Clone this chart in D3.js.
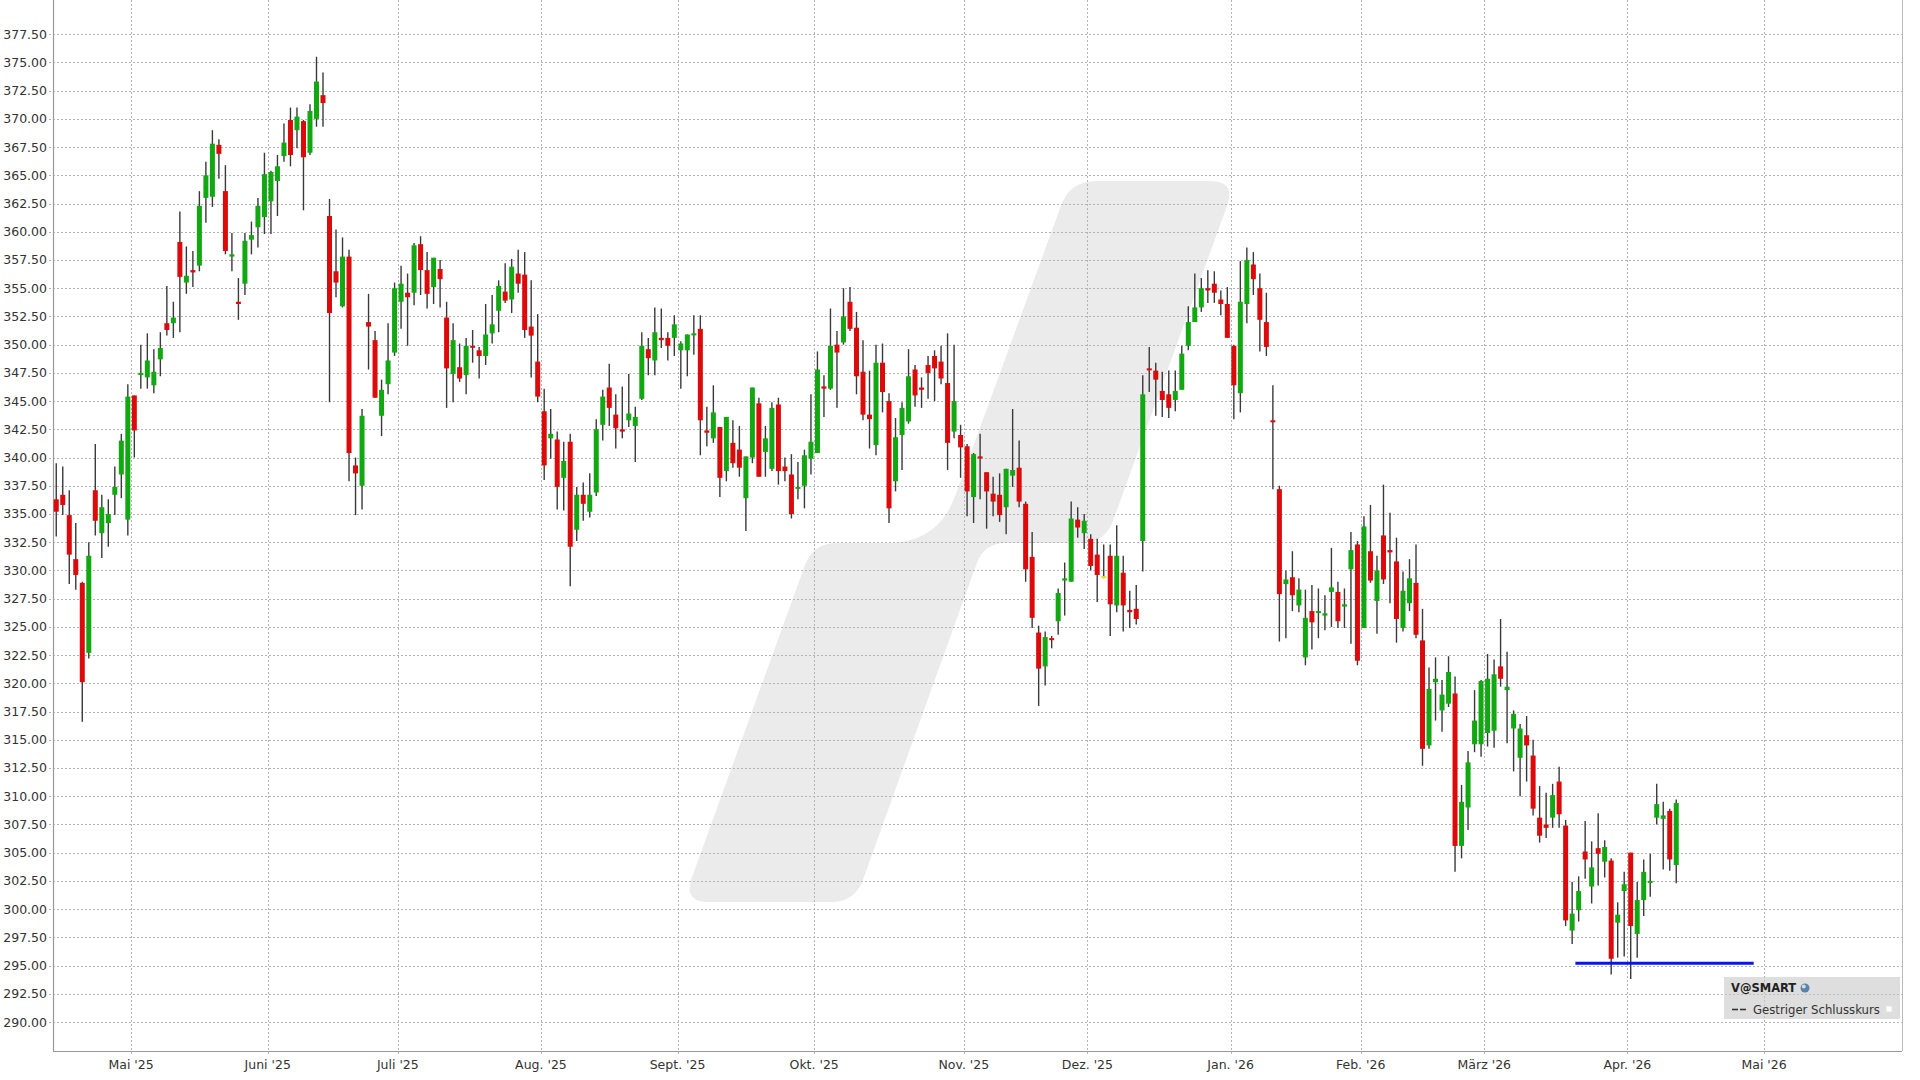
<!DOCTYPE html>
<html>
<head>
<meta charset="utf-8">
<script src="https://cdn.jsdelivr.net/npm/d3@7"></script>
<style>
body { margin: 0; background: #fff; }
svg { display: block; font-family: "DejaVu Sans", Verdana, sans-serif; }
</style>
</head>
<body>
<script>
// daily candles, 14.04.2025 .. 13.04.2026 (trading days)
var openP = [336.3,336.7,334.9,331.0,328.9,322.7,337.1,333.3,334.2,336.7,338.5,334.5,345.5,347.3,347.1,346.4,348.7,351.9,351.9,359.1,
355.5,356.6,357.0,363.0,363.1,367.7,363.6,357.8,353.8,355.4,359.3,360.4,361.3,362.7,364.5,366.7,369.9,369.0,369.8,367.0,
370.0,372.1,361.4,356.5,353.4,357.8,339.3,337.5,352.0,350.4,343.7,346.5,349.3,353.8,354.6,354.6,358.9,356.6,355.1,356.7,
352.4,347.4,348.0,347.3,349.9,349.5,349.0,351.0,353.0,354.7,354.0,356.3,356.2,351.6,348.5,344.1,341.7,341.6,338.2,341.4,
333.6,336.7,335.2,336.9,342.9,346.2,343.8,342.5,343.3,342.8,345.2,349.6,348.6,350.6,350.6,350.6,349.5,349.5,350.9,351.4,
342.4,341.7,342.7,338.8,341.3,340.7,336.4,340.0,344.8,340.5,339.0,344.7,339.2,338.5,337.3,337.5,339.9,340.4,346.3,346.1,
350.0,350.2,353.8,351.5,347.6,343.8,341.1,348.4,345.0,337.9,342.0,343.2,347.8,346.2,348.2,349.0,348.5,346.6,342.3,342.0,
341.0,336.5,340.1,338.7,336.8,336.7,335.6,338.4,339.1,335.9,331.2,324.5,321.5,324.0,325.5,329.1,329.0,334.5,333.3,332.8,
331.4,329.5,331.3,326.9,329.8,326.5,326.6,332.6,347.9,347.7,345.9,345.6,345.1,346.0,349.9,352.0,353.3,355.0,355.4,354.0,
353.6,349.9,345.7,353.6,357.1,355.0,352.0,343.3,337.2,328.8,329.4,326.9,322.3,326.4,326.3,326.0,328.1,328.1,326.8,330.1,
332.3,324.9,331.7,327.3,333.1,331.8,330.8,324.9,327.1,328.9,323.8,314.5,320.1,317.6,318.2,319.1,305.6,309.0,314.6,314.6,
315.6,315.8,321.5,319.4,316.0,313.4,315.4,313.6,308.1,307.5,308.1,311.3,307.4,298.1,299.9,305.1,302.0,305.4,304.2,304.3,
298.8,301.6,305.0,297.8,300.8,302.4,308.1,308.0,308.7,303.9];
var highP = [339.5,339.2,337.1,334.2,329.0,332.5,341.2,336.7,336.3,339.2,342.1,346.5,345.5,350.0,351.0,349.6,351.1,355.2,353.8,361.8,
358.7,358.3,363.6,366.2,369.0,368.2,365.9,359.9,355.9,359.9,360.9,363.0,367.0,365.4,366.8,369.6,371.0,371.0,369.9,371.3,
375.5,374.1,362.9,360.2,359.5,358.4,340.0,344.3,354.5,351.2,346.9,351.9,355.5,357.0,356.3,359.0,359.6,358.2,357.7,357.5,
353.8,351.9,350.1,350.6,351.3,349.8,353.6,354.4,355.7,357.2,357.6,358.4,358.2,355.7,352.7,346.1,344.3,342.3,341.4,342.1,
337.4,337.8,338.6,343.4,346.0,348.3,345.6,346.3,347.4,344.5,351.1,350.6,353.3,353.2,351.1,352.6,350.3,350.9,352.6,352.6,
344.5,346.4,342.7,343.6,343.3,342.8,340.1,346.2,345.3,342.8,344.9,345.3,340.0,340.3,339.6,340.7,345.6,349.4,347.3,353.2,
351.2,355.0,355.1,352.9,350.4,347.7,350.0,350.1,345.7,343.5,344.9,349.6,348.2,347.1,349.0,349.5,349.9,351.0,350.0,342.9,
341.2,340.4,342.1,338.7,338.3,338.6,339.0,344.3,341.5,336.1,333.4,325.1,324.6,324.2,328.4,330.7,336.1,335.6,335.0,333.2,
332.8,332.3,332.3,334.0,331.3,328.2,328.7,347.3,349.8,348.4,347.6,347.7,347.7,349.9,353.4,356.3,355.9,356.6,356.5,354.8,
355.1,350.0,357.4,358.6,358.2,356.3,354.6,346.4,337.5,330.0,331.7,329.3,328.3,328.7,328.4,327.8,332.0,329.0,328.4,333.4,
332.6,334.8,335.8,331.3,337.6,335.1,332.9,329.9,331.0,332.3,326.6,321.4,322.3,320.3,322.4,320.6,311.0,314.0,319.4,320.3,
322.6,322.1,325.7,322.8,317.6,316.4,317.1,315.0,310.9,310.3,311.1,312.6,307.9,302.4,302.9,307.8,306.0,308.5,306.1,304.5,
300.6,303.3,305.0,302.4,304.4,304.9,311.1,309.5,308.9,309.7];
var lowP = [333.0,334.9,328.8,328.3,316.6,322.2,333.1,331.1,332.1,334.9,336.4,333.1,340.0,346.1,346.1,345.7,347.2,350.8,350.6,351.1,
354.5,355.1,356.5,360.8,362.2,364.7,358.0,356.5,352.2,354.4,358.0,358.6,359.8,359.8,361.4,366.2,365.8,367.4,361.9,366.8,
369.3,369.3,344.9,354.2,353.3,337.9,334.9,335.4,347.8,345.3,341.9,345.6,349.0,351.4,349.9,353.5,354.4,353.2,353.6,353.3,
344.4,344.9,346.7,345.6,348.4,347.0,348.2,350.1,351.1,353.7,352.8,354.6,350.6,347.1,344.9,338.0,339.9,335.4,335.3,328.6,
332.6,334.4,334.7,336.6,341.5,342.8,340.8,341.7,342.7,339.6,345.1,347.3,347.3,349.7,348.6,349.0,346.1,347.2,349.1,340.2,
341.0,341.3,336.5,337.9,339.1,338.3,333.5,339.5,338.3,338.3,338.8,337.6,337.9,334.6,336.3,335.5,338.5,340.4,343.6,346.0,
344.4,350.0,351.2,345.6,343.3,340.8,340.2,344.0,334.2,337.0,338.9,343.0,344.5,344.4,345.2,345.0,346.5,338.9,341.7,338.2,
334.8,334.2,336.3,333.7,334.8,334.3,333.2,337.4,335.6,329.0,324.9,318.0,319.8,323.1,324.3,326.0,329.0,332.9,331.9,330.0,
327.2,329.3,324.2,326.3,324.6,324.9,325.2,329.9,345.8,343.7,343.6,343.5,344.1,346.0,349.5,352.0,352.9,353.7,353.7,352.6,
350.6,343.4,344.0,351.9,354.4,349.4,349.0,337.2,323.7,324.0,326.4,326.3,321.6,323.0,324.0,324.7,325.0,324.9,324.9,323.5,
321.6,324.9,328.9,324.4,328.8,327.1,323.6,324.6,326.4,324.0,312.7,314.2,316.7,315.7,317.9,303.3,304.5,307.0,313.9,313.5,
314.4,314.3,319.7,314.7,312.2,310.0,311.3,308.3,305.9,306.3,307.2,307.2,298.5,296.9,298.9,302.7,300.5,302.1,302.8,294.2,
295.7,295.8,293.8,295.7,299.4,301.1,307.5,303.5,303.4,302.3];
var closeP = [335.2,335.8,331.4,329.6,320.1,331.3,334.4,335.6,335.0,337.4,341.5,345.4,342.4,347.5,348.6,347.6,349.7,351.3,352.4,356.0,
356.1,356.4,362.3,365.0,367.8,366.9,358.3,358.0,353.6,359.2,359.7,362.3,365.1,365.3,365.8,367.9,366.8,370.2,366.6,370.7,
373.3,371.4,352.8,355.5,357.8,340.4,338.6,343.7,351.6,345.3,346.0,348.6,355.0,355.4,354.2,358.8,356.6,354.5,357.7,355.8,
347.9,350.4,347.0,349.9,349.8,349.0,350.9,351.8,355.2,353.9,356.9,355.4,351.3,350.8,345.4,339.3,342.1,337.4,339.7,332.1,
336.7,335.9,336.7,342.5,345.4,344.4,342.6,342.3,343.9,343.6,349.9,348.8,351.1,350.4,349.9,351.8,350.1,350.9,351.0,343.3,
342.2,344.0,338.2,343.6,339.5,339.1,340.1,346.2,338.3,341.7,344.4,338.8,338.8,335.0,337.4,340.2,341.4,347.8,346.1,349.9,
349.3,352.5,351.4,347.2,343.8,343.4,348.4,345.8,335.5,341.8,344.4,347.2,345.5,346.0,347.5,347.9,347.0,341.3,345.0,340.9,
337.0,340.3,340.0,337.0,336.1,334.9,339.0,338.9,336.1,330.1,325.8,321.3,324.1,323.9,328.0,329.3,334.6,333.8,334.4,330.4,
329.6,329.5,327.0,331.3,326.9,326.3,325.7,345.6,347.8,346.9,345.1,344.4,345.9,349.2,352.0,353.3,355.0,354.8,354.6,353.6,
350.6,346.4,353.8,357.5,355.8,352.2,349.8,343.2,327.9,329.2,327.8,328.3,325.8,325.4,326.4,326.2,328.5,325.5,327.0,331.8,
322.0,333.9,329.1,330.0,329.2,331.6,325.7,328.2,329.3,324.3,314.2,319.5,320.4,319.0,321.0,305.6,309.5,313.0,316.7,320.2,
320.4,320.8,320.4,319.7,317.3,316.0,314.5,308.9,306.5,307.2,310.1,308.4,299.0,299.6,301.6,304.4,303.7,304.9,305.5,295.6,
299.5,302.2,298.5,300.8,303.3,302.5,309.3,308.3,304.4,309.4];

var monthLabels = ["Mai '25", "Juni '25", "Juli '25", "Aug. '25", "Sept. '25", "Okt. '25", "Nov. '25",
  "Dez. '25", "Jan. '26", "Feb. '26", "März '26", "Apr. '26", "Mai '26"];
var monthStart = [12, 33, 53, 75, 96, 117, 140, 159, 181, 201, 220, 242, 263];   // index of first trading day
var yTicks = d3.range(290, 377.51, 2.5);
var levelLine = {from: 234.0, to: 261.4, value: 295.2};

var W = 1920, H = 1080;
var left = 53, right = 1902, bottom = 1051;
var x = d3.scaleLinear().domain([0, 284.2]).range([left, right]);
var y = d3.scaleLinear().domain([290, 377.5]).range([1022, 34.2]);

var svg = d3.select("body").append("svg").attr("width", W).attr("height", H);

// watermark
function roundedPoly(pts, rad) {
	var p = d3.path(), n = pts.length;
	for (var i = 0; i < n; i++) {
		var a = pts[(i - 1 + n) % n], b = pts[i], c = pts[(i + 1) % n];
		var d1 = Math.hypot(a[0] - b[0], a[1] - b[1]), d2 = Math.hypot(c[0] - b[0], c[1] - b[1]);
		var p1 = [b[0] + (a[0] - b[0]) * rad[i] / d1, b[1] + (a[1] - b[1]) * rad[i] / d1];
		var p2 = [b[0] + (c[0] - b[0]) * rad[i] / d2, b[1] + (c[1] - b[1]) * rad[i] / d2];
		if (i == 0) p.moveTo(p1[0], p1[1]); else p.lineTo(p1[0], p1[1]);
		p.quadraticCurveTo(b[0], b[1], p2[0], p2[1]);
	}
	p.closePath();
	return p.toString();
}
var logo = [[1070,181],[1236,181],[1105,543],[984,543],[855,902],[683,902],[813,543],[938,543]];
svg.append("path")
	.attr("d", roundedPoly(logo, [26, 26, 24, 22, 24, 26, 24, 50]))
	.attr("fill", "#ebebeb");

// grid
var grid = svg.append("g").attr("stroke", "#b4b4b4").attr("stroke-width", 1).attr("stroke-dasharray", "2,2");
grid.selectAll("line.h").data(yTicks).enter().append("line")
	.attr("x1", left - 4).attr("x2", right)
	.attr("y1", function(d) { return Math.round(y(d)) + 0.5; })
	.attr("y2", function(d) { return Math.round(y(d)) + 0.5; });
grid.selectAll("line.v").data(monthStart).enter().append("line")
	.attr("y1", 0).attr("y2", bottom + 4)
	.attr("x1", function(d) { return Math.round(x(d)) + 0.5; })
	.attr("x2", function(d) { return Math.round(x(d)) + 0.5; });

// axes frame
svg.append("line").attr("x1", left + 0.5).attr("x2", left + 0.5).attr("y1", 0).attr("y2", bottom)
	.attr("stroke", "#999").attr("stroke-width", 1.2);
svg.append("line").attr("x1", left).attr("x2", right).attr("y1", bottom + 0.5).attr("y2", bottom + 0.5)
	.attr("stroke", "#999").attr("stroke-width", 1.2);
svg.append("line").attr("x1", right + 0.5).attr("x2", right + 0.5).attr("y1", 0).attr("y2", bottom)
	.attr("stroke", "#bbb").attr("stroke-width", 1);

svg.append("g").selectAll("text").data(yTicks).enter().append("text")
	.attr("x", 47).attr("y", function(d) { return y(d) + 4.5; })
	.attr("text-anchor", "end").attr("font-size", 12.5).attr("fill", "#333")
	.text(d3.format(".2f"));

svg.append("g").selectAll("text").data(monthStart).enter().append("text")
	.attr("x", function(d) { return x(d); }).attr("y", 1069)
	.attr("text-anchor", "middle").attr("font-size", 12.5).attr("fill", "#333")
	.text(function(d, i) { return monthLabels[i]; });

// candles
var idx = d3.range(openP.length);
var bodyW = 5;
var cg = svg.append("g");
cg.selectAll("line").data(idx).enter().append("line")
	.attr("x1", function(i) { return x(i + 0.5); })
	.attr("x2", function(i) { return x(i + 0.5); })
	.attr("y1", function(i) { return y(highP[i]); })
	.attr("y2", function(i) { return y(lowP[i]); })
	.attr("stroke", "#3a3a3a").attr("stroke-width", 1.4);
cg.selectAll("rect").data(idx).enter().append("rect")
	.attr("x", function(i) { return x(i + 0.5) - bodyW / 2; })
	.attr("width", bodyW)
	.attr("y", function(i) { return y(Math.max(openP[i], closeP[i])); })
	.attr("height", function(i) { return Math.max(2, Math.abs(y(openP[i]) - y(closeP[i]))); })
	.attr("fill", function(i) {
		if (closeP[i] > openP[i]) return "#12a812";
		if (closeP[i] < openP[i]) return "#dc0a0a";
		return "#e8e020";
	});

// level line
svg.append("line")
	.attr("x1", x(levelLine.from)).attr("x2", x(levelLine.to))
	.attr("y1", y(levelLine.value)).attr("y2", y(levelLine.value))
	.attr("stroke", "#0a14f0").attr("stroke-width", 3);

// legend
var lg = svg.append("g");
lg.append("rect").attr("x", 1724).attr("y", 977).attr("width", 176).attr("height", 42)
	.attr("fill", "#c8c8c8").attr("fill-opacity", 0.6);
lg.append("text").attr("x", 1731).attr("y", 992).attr("font-size", 11.5).attr("font-weight", "bold")
	.attr("fill", "#222").text("V@SMART");
lg.append("circle").attr("cx", 1805).attr("cy", 988).attr("r", 4.5).attr("fill", "#5a82a8");
lg.append("circle").attr("cx", 1803.8).attr("cy", 986.6).attr("r", 2).attr("fill", "#c8dcee");
lg.append("line").attr("x1", 1732).attr("x2", 1738).attr("y1", 1009.5).attr("y2", 1009.5).attr("stroke", "#333").attr("stroke-width", 1.6);
lg.append("line").attr("x1", 1740).attr("x2", 1746).attr("y1", 1009.5).attr("y2", 1009.5).attr("stroke", "#333").attr("stroke-width", 1.6);
lg.append("text").attr("x", 1753).attr("y", 1014).attr("font-size", 11.7).attr("fill", "#333").text("Gestriger Schlusskurs");
lg.append("rect").attr("x", 1886).attr("y", 1006).attr("width", 6).attr("height", 6)
	.attr("fill", "#fff").attr("stroke", "#e4e4e4");
</script>
</body>
</html>
